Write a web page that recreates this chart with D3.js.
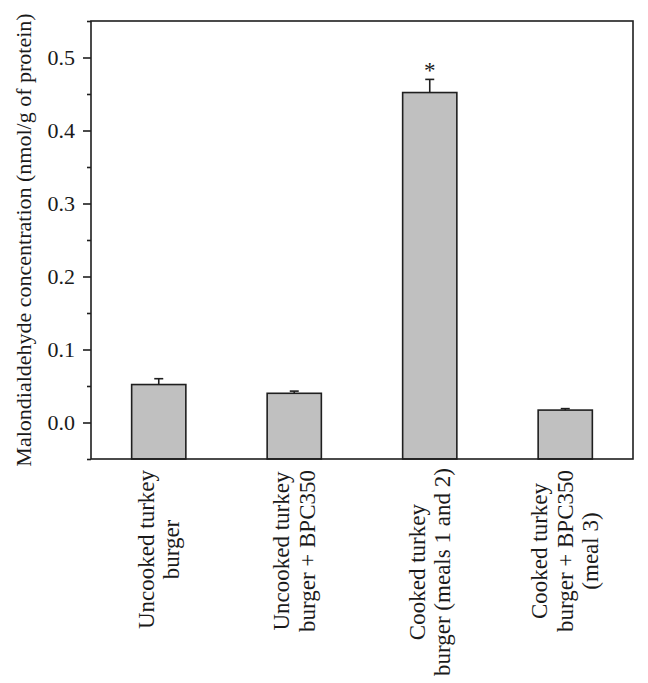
<!DOCTYPE html>
<html>
<head>
<meta charset="utf-8">
<script src="https://cdn.jsdelivr.net/npm/d3@7"></script>
<style>
  html, body { margin: 0; padding: 0; background: #fff; }
  svg { display: block; }
  text { font-family: "Liberation Serif", "DejaVu Serif", serif; fill: #1a1a1a; }
</style>
</head>
<body>
<svg id="chart" width="648" height="683"></svg>
<script>
// ---- data ----
const categories = [
  ["Uncooked turkey", "burger"],
  ["Uncooked turkey", "burger + BPC350"],
  ["Cooked turkey", "burger (meals 1 and 2)"],
  ["Cooked turkey", "burger + BPC350", "(meal 3)"]
];
const means = [0.052, 0.040, 0.452, 0.017];
const errors = [0.008, 0.003, 0.018, 0.002];
const significance = ["", "", "*", ""];
const majorTicks = [0.0, 0.1, 0.2, 0.3, 0.4, 0.5];
const minorTicks = [-0.05, 0.05, 0.15, 0.25, 0.35, 0.45, 0.55];
const yLabel = "Malondialdehyde concentration (nmol/g of protein)";

// ---- layout ----
const svg = d3.select("#chart");
const pLeft = 91, pRight = 633, pTop = 21, pBottom = 459;
const ink = "#1f1f1f";

const x = d3.scaleBand()
  .domain(d3.range(categories.length))
  .range([pLeft, pRight])
  .paddingInner(0.6)
  .paddingOuter(0.3);

const y = d3.scaleLinear().domain([-0.05, 0.55]).range([pBottom, pTop]);

// bars
svg.append("g").selectAll("rect")
  .data(means)
  .join("rect")
  .attr("x", (d, i) => x(i))
  .attr("y", d => y(d))
  .attr("width", x.bandwidth())
  .attr("height", d => y(-0.05) - y(d))
  .attr("fill", "#c0c0c0")
  .attr("stroke", ink)
  .attr("stroke-width", 1.6);

// error bars (upper only)
const eg = svg.append("g").attr("stroke", ink).attr("stroke-width", 1.6);
means.forEach((m, i) => {
  const cx = x(i) + x.bandwidth() / 2;
  eg.append("line").attr("x1", cx).attr("x2", cx).attr("y1", y(m)).attr("y2", y(m + errors[i]));
  eg.append("line").attr("x1", cx - 4.5).attr("x2", cx + 4.5).attr("y1", y(m + errors[i])).attr("y2", y(m + errors[i]));
});

// significance markers
svg.append("g").selectAll("text")
  .data(means)
  .join("text")
  .attr("x", (d, i) => x(i) + x.bandwidth() / 2)
  .attr("y", (d, i) => y(d + errors[i]) - 1)
  .attr("text-anchor", "middle")
  .attr("font-size", 23)
  .text((d, i) => significance[i]);

// frame
svg.append("rect")
  .attr("x", pLeft).attr("y", pTop)
  .attr("width", pRight - pLeft).attr("height", pBottom - pTop)
  .attr("fill", "none").attr("stroke", ink).attr("stroke-width", 1.6);

// y axis
const yAxis = d3.axisLeft(y).tickValues(majorTicks).tickFormat(d3.format(".1f")).tickSize(8).tickPadding(8);
const ya = svg.append("g").attr("transform", `translate(${pLeft},0)`).call(yAxis);
ya.select(".domain").remove();
ya.selectAll(".tick line").attr("stroke", ink).attr("stroke-width", 1.6);
ya.selectAll(".tick text").attr("font-size", 22).attr("font-family", "Liberation Serif, serif").attr("fill", "#1a1a1a");

const yMinor = d3.axisLeft(y).tickValues(minorTicks).tickFormat("").tickSize(4);
const ym = svg.append("g").attr("transform", `translate(${pLeft},0)`).call(yMinor);
ym.select(".domain").remove();
ym.selectAll(".tick line").attr("stroke", ink).attr("stroke-width", 1.6);

// y label
svg.append("text")
  .attr("transform", `translate(31,${(pTop + pBottom) / 2}) rotate(-90)`)
  .attr("text-anchor", "middle")
  .attr("font-size", 22)
  .text(yLabel);

// x category labels (rotated, centered block)
const fs = 23, lh = 25.5, labelTop = 470, labelMaxBottom = 676;
categories.forEach((lines, i) => {
  const cx = x(i) + x.bandwidth() / 2;
  const g = svg.append("g");
  const t = g.append("text").attr("font-size", fs).attr("text-anchor", "middle");
  const n = lines.length;
  lines.forEach((ln, j) => {
    t.append("tspan")
      .attr("x", 0)
      .attr("y", (j - (n - 1) / 2) * lh + 0.33 * fs)
      .text(ln);
  });
  let maxLen = 0;
  t.selectAll("tspan").each(function () { maxLen = Math.max(maxLen, this.getComputedTextLength()); });
  const cy = Math.min(labelTop + maxLen / 2, labelMaxBottom - maxLen / 2);
  g.attr("transform", `translate(${cx},${cy}) rotate(-90)`);
});
</script>
</body>
</html>
